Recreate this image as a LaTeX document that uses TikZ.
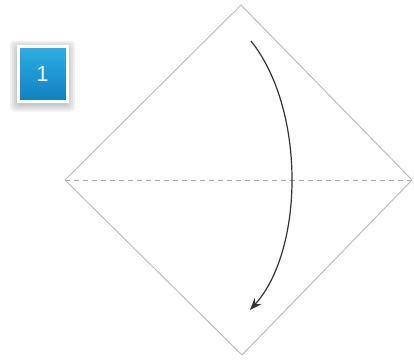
\documentclass[tikz,border=0pt]{standalone}
\usepackage{fontspec}
\setsansfont{Liberation Sans}
\usetikzlibrary{arrows.meta}
\definecolor{paperline}{RGB}{190,190,190}
\definecolor{badgetop}{RGB}{45,175,228}
\definecolor{badgebot}{RGB}{18,128,192}
\tikzset{
  paper/.style={draw=paperline, line width=1pt, line join=miter},
  foldline/.style={draw=paperline!90!black, dashed, dash pattern=on 5pt off 4pt, line width=0.9pt},
  foldarrow/.style={draw=black!80, line width=1.2pt, -{Stealth[length=12pt,width=9pt]}},
  badge/.style={rectangle, minimum width=49pt, minimum height=55pt, inner sep=0pt,
    top color=badgetop, bottom color=badgebot, draw=white, line width=3pt,
    text=white!92!badgetop, font=\sffamily\fontsize{22}{22}\selectfont},
  badgeglow/.style={fill=black, opacity=0.06, rounded corners=4pt}
}
\begin{document}
\begin{tikzpicture}[x=1pt,y=1pt]
\useasboundingbox (0,0) rectangle (414,360);
\coordinate (T) at (241,355);
\coordinate (L) at (65,180);
\coordinate (R) at (412,180);
\coordinate (B) at (242,5);
\draw[paper] (T) -- (R) -- (B) -- (L) -- cycle;
\draw[foldline] (L) -- (R);
\coordinate (s) at (251,319);
\coordinate (e) at (250,50);
\draw[foldarrow] (s) .. controls (306,250) and (304,110) .. (e);
\foreach \d in {2,4,6,8}{
  \path[badgeglow] (42.5-24.5-\d,284-27.5-\d) rectangle (42.5+24.5+\d,284+27.5+\d);
}
\node[badge] (n1) at (42.5,286.5) {1};
\end{tikzpicture}
\end{document}
